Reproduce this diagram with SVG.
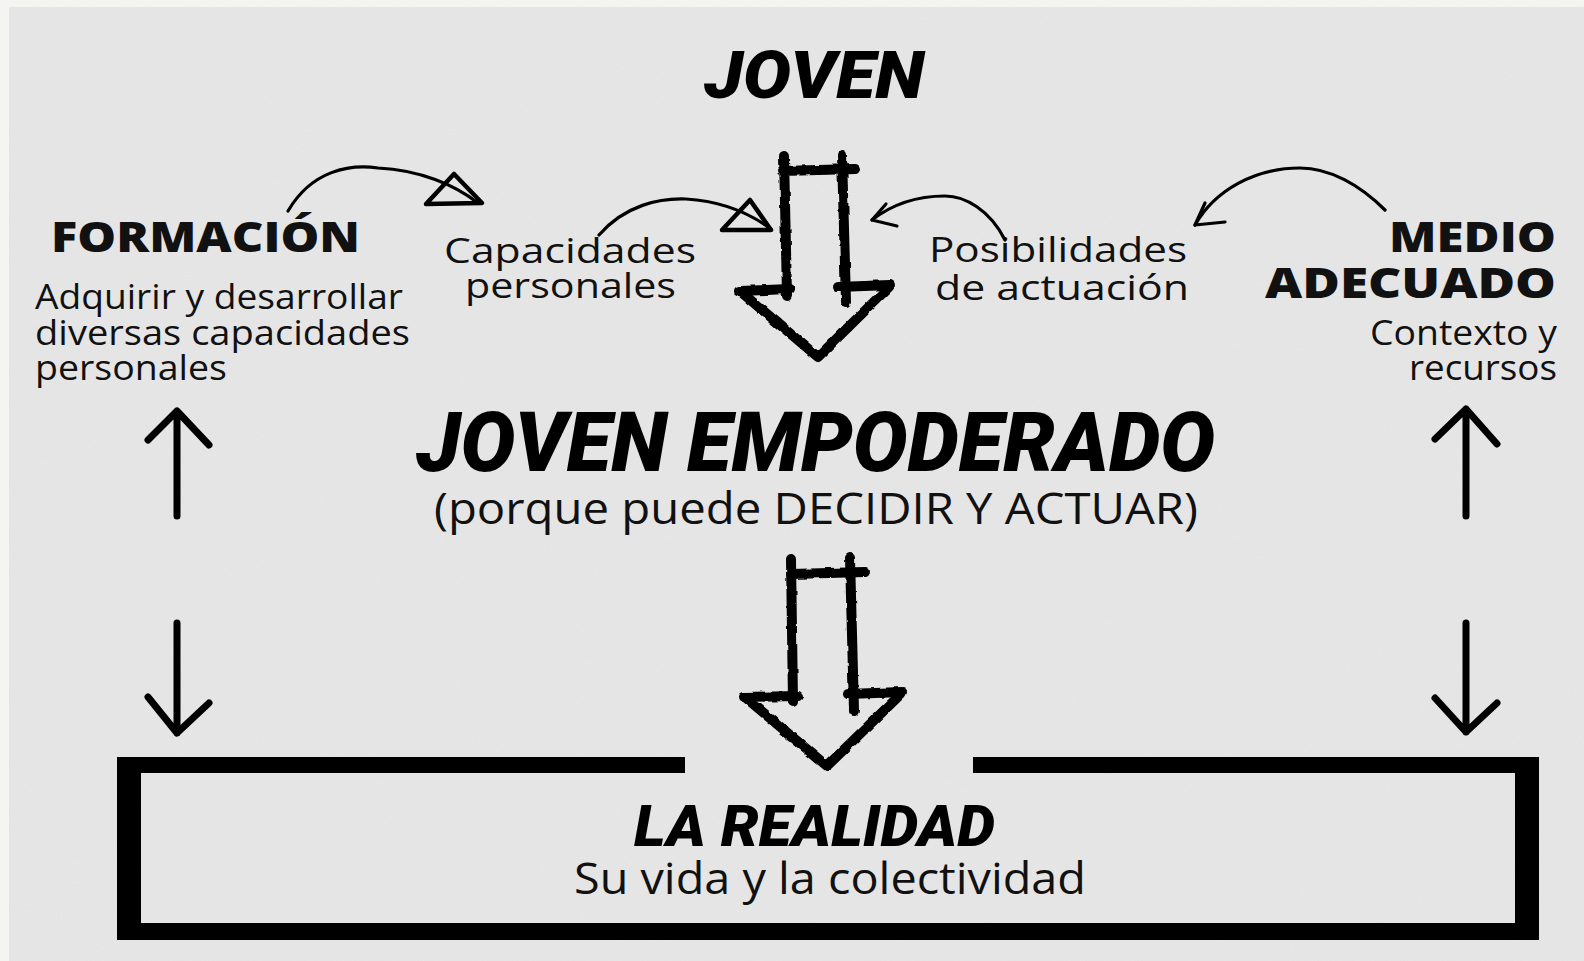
<svg xmlns="http://www.w3.org/2000/svg" width="1584" height="961" viewBox="0 0 1584 961">
<defs>
<filter id="paper" x="0" y="0" width="100%" height="100%">
<feTurbulence type="fractalNoise" baseFrequency="0.9" numOctaves="2" seed="3" result="n"/>
<feColorMatrix in="n" type="matrix" values="0 0 0 0 0  0 0 0 0 0  0 0 0 0 0  0 0 0 0.06 0" result="a"/>
<feComposite in="a" in2="SourceGraphic" operator="over"/>
</filter>
<filter id="rough" x="-10%" y="-10%" width="120%" height="120%">
<feTurbulence type="fractalNoise" baseFrequency="0.09" numOctaves="2" seed="7" result="t"/>
<feDisplacementMap in="SourceGraphic" in2="t" scale="3.5" xChannelSelector="R" yChannelSelector="G"/>
</filter>
</defs>
<style>
.cond{font-family:Roboto,"Liberation Sans",sans-serif;font-weight:900;font-style:italic;fill:#000}
.reg{font-family:"Open Sans","Liberation Sans",sans-serif;font-weight:400;fill:#111}
.bold{font-family:"Open Sans","Liberation Sans",sans-serif;font-weight:800;fill:#111}
.block{fill:none;stroke:#000;stroke-width:10;stroke-linecap:round;stroke-linejoin:round}
.thin{fill:none;stroke:#000;stroke-width:3.2;stroke-linecap:round;stroke-linejoin:round}
.tri{fill:none;stroke:#000;stroke-width:4.5;stroke-linejoin:round}
.side{fill:none;stroke:#000;stroke-width:7;stroke-linecap:round;stroke-linejoin:round}
</style>
<rect x="0" y="0" width="1584" height="961" fill="#f4f4f3"/>
<rect x="9" y="7" width="1575" height="954" fill="#e8e8e8" filter="url(#paper)"/>

<g id="joven"><text class="cond" x="704" y="98" font-size="67" textLength="220" lengthAdjust="spacingAndGlyphs">JOVEN</text></g>

<g id="formacion">
<text class="bold" x="51" y="252" font-size="42" textLength="309" lengthAdjust="spacingAndGlyphs">FORMACIÓN</text>
<text class="reg" x="35" y="309" font-size="34" textLength="368" lengthAdjust="spacingAndGlyphs">Adquirir y desarrollar</text>
<text class="reg" x="35" y="345" font-size="34" textLength="375" lengthAdjust="spacingAndGlyphs">diversas capacidades</text>
<text class="reg" x="35" y="380" font-size="34" textLength="192" lengthAdjust="spacingAndGlyphs">personales</text>
</g>

<g id="capacidades">
<text class="reg" x="444" y="263" font-size="35" textLength="252" lengthAdjust="spacingAndGlyphs">Capacidades</text>
<text class="reg" x="465" y="298" font-size="35" textLength="211" lengthAdjust="spacingAndGlyphs">personales</text>
</g>

<g id="posibilidades">
<text class="reg" x="929" y="262" font-size="35" textLength="258" lengthAdjust="spacingAndGlyphs">Posibilidades</text>
<text class="reg" x="935" y="300" font-size="35" textLength="254" lengthAdjust="spacingAndGlyphs">de actuación</text>
</g>

<g id="medio">
<text class="bold" x="1556" y="252" font-size="42" text-anchor="end" textLength="167" lengthAdjust="spacingAndGlyphs">MEDIO</text>
<text class="bold" x="1556" y="298" font-size="42" text-anchor="end" textLength="291" lengthAdjust="spacingAndGlyphs">ADECUADO</text>
<text class="reg" x="1557" y="345" font-size="34" text-anchor="end" textLength="187" lengthAdjust="spacingAndGlyphs">Contexto y</text>
<text class="reg" x="1557" y="380" font-size="34" text-anchor="end" textLength="148" lengthAdjust="spacingAndGlyphs">recursos</text>
</g>

<g id="empoderado">
<text class="cond" x="416" y="471" font-size="83" textLength="799" lengthAdjust="spacingAndGlyphs">JOVEN EMPODERADO</text>
<text class="reg" x="434" y="524" font-size="43" textLength="764" lengthAdjust="spacingAndGlyphs">(porque puede DECIDIR Y ACTUAR)</text>
</g>

<g id="realidad">
<rect x="117" y="757" width="568" height="16" fill="#000"/>
<rect x="973" y="757" width="566" height="16" fill="#000"/>
<rect x="117" y="757" width="24" height="183" fill="#000"/>
<rect x="1515" y="757" width="24" height="183" fill="#000"/>
<rect x="117" y="923" width="1422" height="17" fill="#000"/>
<text class="cond" x="634" y="846" font-size="58" textLength="361" lengthAdjust="spacingAndGlyphs">LA REALIDAD</text>
<text class="reg" x="574" y="894" font-size="44" textLength="512" lengthAdjust="spacingAndGlyphs">Su vida y la colectividad</text>
</g>

<g id="connectors">
<g filter="url(#rough)">
<path class="block" d="M784,156 L787,296"/>
<path class="block" d="M842,155 L846,302"/>
<path class="block" d="M782,171 L855,169"/>
<path class="block" d="M739,291 L790,289"/>
<path class="block" d="M838,287 L890,285"/>
<path class="block" d="M741,292 L818,357 L889,287"/>
<path class="block" d="M791,559 L793,702"/>
<path class="block" d="M850,558 L854,711"/>
<path class="block" d="M791,574 L865,572"/>
<path class="block" d="M744,697 L798,696"/>
<path class="block" d="M848,694 L902,692"/>
<path class="block" d="M746,698 L827,766 L901,694"/>
</g>
<path class="thin" d="M288,211 C312,170 350,164 378,168 C420,170 455,185 478,203"/>
<path class="tri" d="M426,204 L454,174 L482,203 Z"/>
<path class="thin" d="M599,235 C625,205 660,198 686,199 C720,201 748,212 771,229"/>
<path class="tri" d="M722,230 L750,200 L771,230 Z"/>
<path class="thin" d="M1005,240 C990,210 965,196 945,196 C915,196 890,206 872,220"/>
<path class="thin" d="M872,220 L897,226 M872,220 L886,204"/>
<path class="thin" d="M1385,210 C1360,185 1330,168 1300,168 C1255,168 1215,190 1195,225"/>
<path class="thin" d="M1195,225 L1225,222 M1195,225 L1205,203"/>
<path class="side" d="M177,516 L177,411 M148,440 L177,411 L209,445"/>
<path class="side" d="M177,623 L177,733 M148,697 L177,733 L209,703"/>
<path class="side" d="M1466,516 L1466,409 M1435,439 L1466,409 L1497,444"/>
<path class="side" d="M1466,623 L1466,732 M1435,698 L1466,732 L1497,703"/>
</g>
</svg>
